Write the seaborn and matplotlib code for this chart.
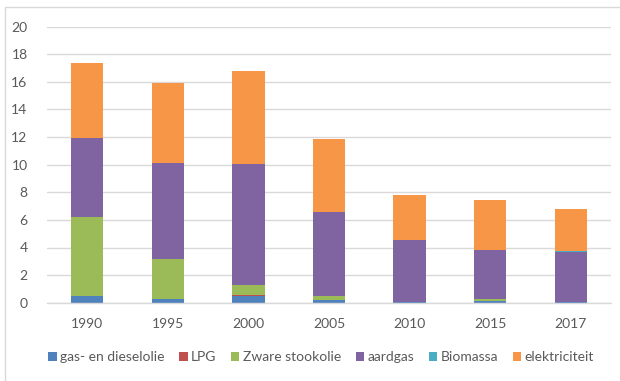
import matplotlib
matplotlib.use("Agg")
import matplotlib.pyplot as plt
from matplotlib.patches import Rectangle, Patch
import numpy as np
import seaborn as sns

years = ["1990", "1995", "2000", "2005", "2010", "2015", "2017"]

gas_diesel = [0.49, 0.25, 0.50, 0.20, 0.05, 0.10, 0.03]
lpg = [0.02, 0.01, 0.07, 0.01, 0.00, 0.00, 0.00]
zware_stookolie = [5.70, 2.89, 0.71, 0.24, 0.00, 0.15, 0.00]
aardgas = [5.75, 6.95, 8.75, 6.15, 4.49, 3.57, 3.62]
biomassa = [0.00, 0.00, 0.00, 0.00, 0.01, 0.02, 0.12]
elektriciteit = [5.39, 5.80, 6.74, 5.26, 3.28, 3.60, 3.04]

series_names = ["gas- en dieselolie", "LPG", "Zware stookolie", "aardgas",
                "Biomassa", "elektriciteit"]
series_values = [gas_diesel, lpg, zware_stookolie, aardgas, biomassa, elektriciteit]
colors = ["#4F81BD", "#C0504D", "#9BBB59", "#8064A2", "#4BACC6", "#F79646"]

y_ticks = [0, 2, 4, 6, 8, 10, 12, 14, 16, 18, 20]

sns.set_theme(style="white")
plt.rcParams["font.family"] = ["Lato", "DejaVu Sans"]

fig = plt.figure(figsize=(6.2, 3.81), dpi=100)
ax = fig.add_axes([47 / 620, 1 - 302.7 / 381, 564 / 620, 276 / 381])

bottom = np.zeros(len(years))
for name, vals, col in zip(series_names, series_values, colors):
    sns.barplot(x=years, y=vals, bottom=bottom, color=col, width=0.4,
                order=years, ax=ax, saturation=1, linewidth=0)
    bottom = bottom + np.array(vals)

ax.set_ylim(0, 20)
ax.set_xlim(-0.5, len(years) - 0.5)
ax.set_yticks(y_ticks)
ax.set_yticklabels([str(t) for t in y_ticks])
ax.yaxis.grid(True, color="#d9d9d9", linewidth=1.0)
ax.set_axisbelow(True)
for side in ["left", "right", "top"]:
    ax.spines[side].set_visible(False)
ax.spines["bottom"].set_color("#d9d9d9")
ax.spines["bottom"].set_linewidth(1.0)
ax.tick_params(axis="y", length=0, pad=14, labelsize=10, labelcolor="#595959")
ax.tick_params(axis="x", length=0, pad=11, labelsize=10, labelcolor="#595959")
ax.set_xlabel("")
ax.set_ylabel("")

handles = [Patch(facecolor=c, edgecolor="none") for c in colors]
fig.legend(handles, series_names, loc="center", bbox_to_anchor=(0.518, 1 - 357 / 381),
           ncol=6, frameon=False, fontsize=10, labelcolor="#595959",
           handlelength=0.6, handleheight=0.6, handletextpad=0.25,
           columnspacing=1.05, borderaxespad=0)

# thin frame along the left and top edges of the chart area
fig.patches.append(Rectangle((5 / 620, -0.2), 1.2, 1.2 - 7 / 381,
                             transform=fig.transFigure, fill=False,
                             edgecolor="#d9d9d9", linewidth=1.0))

fig.savefig("out.png", dpi=100)
